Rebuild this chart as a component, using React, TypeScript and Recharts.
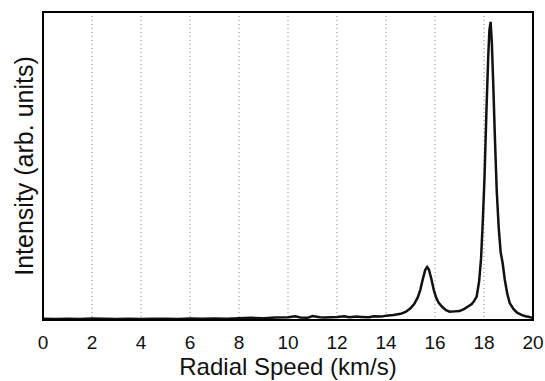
import * as R from 'recharts'
import { LineChart, Line, XAxis, YAxis, CartesianGrid } from 'recharts'

const speed = [
  0, 0.5, 1, 1.5, 2, 2.5, 3, 3.5, 4, 4.5, 5, 5.5, 6, 6.5, 7, 7.5, 8, 8.5, 9, 9.5,
  10, 10.3, 10.5, 10.8, 11, 11.3, 11.5, 12, 12.3, 12.5, 12.8, 13, 13.3, 13.5, 13.8,
  14, 14.3, 14.6, 14.8, 15, 15.15, 15.3, 15.4, 15.5, 15.6, 15.68, 15.75, 15.85, 15.95,
  16.05, 16.15, 16.3, 16.45, 16.6, 16.8, 17, 17.2, 17.35, 17.5, 17.6, 17.7, 17.8, 17.88,
  17.95, 18.02, 18.1, 18.17, 18.22, 18.27, 18.32, 18.38, 18.45, 18.52, 18.6, 18.68,
  18.76, 18.85, 18.95, 19.05, 19.2, 19.35, 19.55, 19.7, 19.85, 20,
]

const intensity = [
  0.4, 0.3, 0.4, 0.3, 0.5, 0.4, 0.3, 0.4, 0.3, 0.4, 0.4, 0.3, 0.5, 0.4, 0.5, 0.4, 0.6, 0.7, 0.6, 0.8,
  0.9, 1.2, 0.8, 0.7, 1.3, 0.9, 0.8, 1.0, 1.2, 0.9, 1.1, 1.0, 0.9, 1.2, 1.1,
  1.4, 1.6, 2.0, 2.6, 3.8, 5.2, 7.4, 9.8, 13.2, 16.2, 17.2, 16.4, 13.4, 9.8,
  7.2, 5.6, 4.2, 3.2, 2.7, 2.8, 2.9, 3.6, 4.4, 5.2, 6.2, 7.6, 12.5, 20,
  32, 46, 68, 85, 94, 96.8, 90, 76, 58, 42, 30, 22,
  18.5, 13, 8.5, 5.5, 3.6, 2.4, 1.6, 1.2, 1.0, 0.6,
]

const xTicks = [0, 2, 4, 6, 8, 10, 12, 14, 16, 18, 20]

const data = speed.map((s, i) => ({ speed: s, intensity: intensity[i] }))

const W = 545
const H = 381
const margin = { top: 12, right: 12, bottom: 0, left: 0 }
const yAxisWidth = 43
const xAxisHeight = 61

const frame = { stroke: '#000', strokeWidth: 2 }

// plot-area hook from recharts 3 if present, otherwise the box implied by the margins
const usePlot: () => any = (R as any).usePlotArea ?? (() => null)

function Frame() {
  const area = usePlot() ?? {
    x: margin.left + yAxisWidth,
    y: margin.top,
    width: W - margin.left - margin.right - yAxisWidth,
    height: H - margin.top - margin.bottom - xAxisHeight,
  }
  return <rect x={area.x} y={area.y} width={area.width} height={area.height} fill="none" stroke="#000" strokeWidth={2} />
}

export default function App() {
  return (
    <div style={{ position: 'absolute', left: 0, top: 0, fontFamily: '"Liberation Sans", Arial, sans-serif' }}>
      <LineChart width={W} height={H} data={data} margin={margin}>
        <CartesianGrid horizontal={false} stroke="#888" strokeDasharray="1 3" />
        <XAxis
          dataKey="speed"
          type="number"
          domain={[0, 20]}
          ticks={xTicks}
          height={xAxisHeight}
          tickLine={false}
          axisLine={frame}
          tickMargin={10}
          tick={{ fill: '#111', fontSize: 19 }}
          label={{ value: 'Radial Speed (km/s)', position: 'insideBottom', offset: 6, fill: '#111', fontSize: 24 }}
        />
        <YAxis
          domain={[0, 100]}
          width={yAxisWidth}
          tick={false}
          tickLine={false}
          axisLine={frame}
          label={{ value: 'Intensity (arb. units)', angle: -90, position: 'insideLeft', offset: 24, fill: '#111', fontSize: 25, style: { textAnchor: 'middle' } }}
        />
        <Frame />
        <Line type="linear" dataKey="intensity" stroke="#111" strokeWidth={2.5} dot={false} isAnimationActive={false} />
      </LineChart>
    </div>
  )
}
